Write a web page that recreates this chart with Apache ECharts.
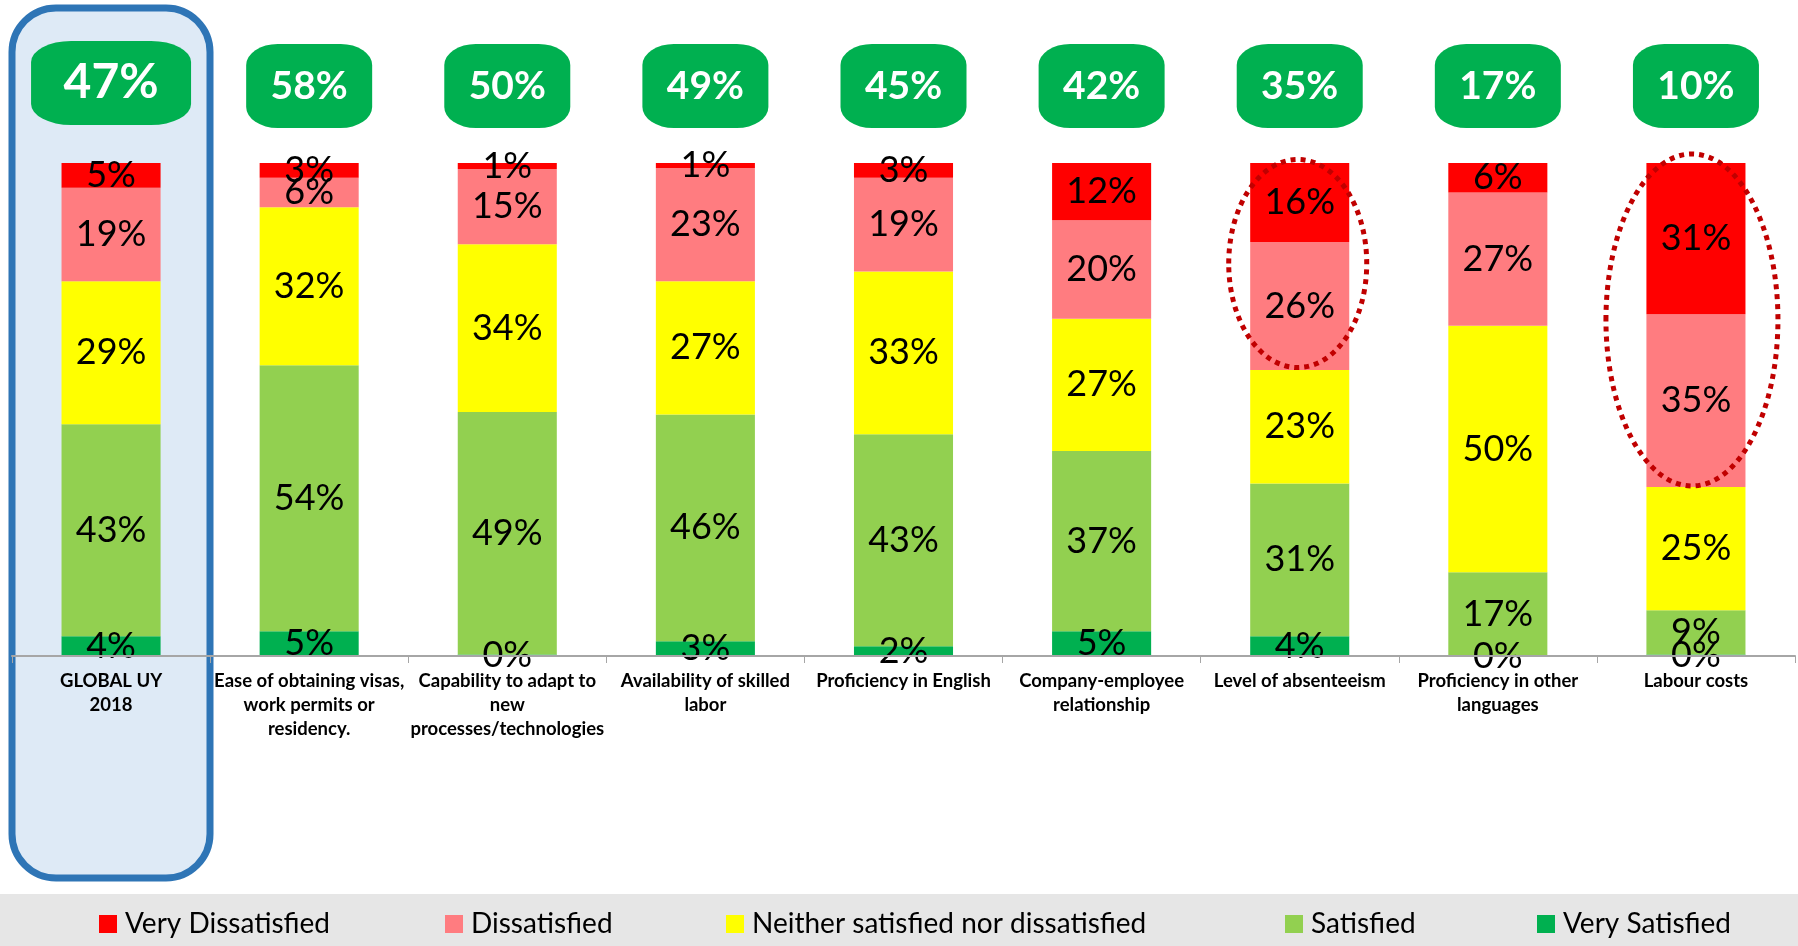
<!DOCTYPE html>
<html>
<head>
<meta charset="utf-8">
<script src="https://cdn.jsdelivr.net/npm/echarts@6/dist/echarts.min.js"></script>
<style>
  html, body { margin: 0; padding: 0; background: #fff; }
  #chart { width: 1798px; height: 946px; }
</style>
</head>
<body>
<div id="chart"></div>
<script>
// categories and segment shares (%)
const categories = [
  'GLOBAL UY\n2018',
  'Ease of obtaining visas,\nwork permits or\nresidency.',
  'Capability to adapt to\nnew\nprocesses/technologies',
  'Availability of skilled\nlabor',
  'Proficiency in English',
  'Company-employee\nrelationship',
  'Level of absenteeism',
  'Proficiency in other\nlanguages',
  'Labour costs'
];
const veryDissatisfied = [5, 3, 1.2, 1, 3, 11.6, 16, 6, 30.7];
const dissatisfied = [19, 6, 15.3, 23, 19, 20, 26, 27, 35];
const neither = [29, 32, 34, 27, 33, 26.8, 23, 50, 25];
const satisfied = [43, 54, 49.2, 46, 43, 36.6, 31, 17, 9];
const verySatisfied = [4, 5, 0.3, 3, 2, 5, 4, 0, 0.3];
// green boxes on top (total satisfied)
const satisfiedTotals = [47, 58, 50, 49, 45, 42, 35, 17, 10];

const FONT = 'Lato, "Open Sans", sans-serif';

const segments = [
  { name: 'Very Satisfied', data: verySatisfied, color: '#00B050' },
  { name: 'Satisfied', data: satisfied, color: '#92D050' },
  { name: 'Neither satisfied nor dissatisfied', data: neither, color: '#FFFF00' },
  { name: 'Dissatisfied', data: dissatisfied, color: '#FF7C80' },
  { name: 'Very Dissatisfied', data: veryDissatisfied, color: '#FF0000' }
];

// legend items left to right, with their left edge in px
const legendOrder = ['Very Dissatisfied', 'Dissatisfied', 'Neither satisfied nor dissatisfied', 'Satisfied', 'Very Satisfied'];
const legendLeft = [94, 440, 721, 1280, 1532];

const chart = echarts.init(document.getElementById('chart'));

const barSeries = segments.map(s => ({
  name: s.name,
  type: 'bar',
  stack: 'total',
  barWidth: '50%',
  xAxisIndex: 0,
  yAxisIndex: 0,
  data: s.data,
  itemStyle: { color: s.color },
  label: {
    show: true,
    position: 'inside',
    color: '#000',
    fontFamily: FONT,
    fontSize: 36,
    formatter: p => Math.round(p.value) + '%'
  },
  z: 5
}));

const totalsSeries = {
  name: 'totals',
  type: 'scatter',
  xAxisIndex: 1,
  yAxisIndex: 1,
  symbol: 'roundRect',
  silent: true,
  data: satisfiedTotals.map((v, i) => i === 0
    ? { value: [i, 0.5, v], symbolSize: [160, 84], symbolOffset: [0, -3],
        label: { fontSize: 48 } }
    : { value: [i, 0.5, v], symbolSize: [126, 84] }),
  itemStyle: { color: '#00B050', opacity: 1 },
  label: {
    show: true,
    position: 'inside',
    color: '#fff',
    fontFamily: FONT,
    fontWeight: 'bold',
    fontSize: 39,
    formatter: p => p.value[2] + '%'
  },
  z: 5
};

const staticGraphics = [
  {
    type: 'rect', z: -10, silent: true,
    shape: { x: 0, y: 894, width: 1798, height: 52 },
    style: { fill: '#E6E6E6' }
  },
  {
    type: 'rect', z: -10, silent: true,
    shape: { x: 12, y: 8, width: 198, height: 870, r: 44 },
    style: { fill: '#DEEAF6', stroke: '#2E75B6', lineWidth: 7 }
  }
];

chart.setOption({
  animation: false,
  grid: [
    { left: 12, right: 3, top: 163, bottom: 290 },
    { left: 12, right: 3, top: 40, height: 92 }
  ],
  xAxis: [
    {
      type: 'category',
      gridIndex: 0,
      data: categories,
      axisLine: { lineStyle: { color: '#A6A6A6', width: 2 } },
      axisTick: { show: true, length: 7, lineStyle: { color: '#A6A6A6', width: 1 } },
      axisLabel: {
        interval: 0,
        margin: 13,
        color: '#000',
        fontFamily: FONT,
        fontWeight: 'bold',
        fontSize: 18.5,
        lineHeight: 24
      },
      z: 6
    },
    { type: 'category', gridIndex: 1, data: categories, show: false }
  ],
  yAxis: [
    { type: 'value', gridIndex: 0, min: 0, max: 100, show: false },
    { type: 'value', gridIndex: 1, min: 0, max: 1, show: false }
  ],
  legend: legendOrder.map((name, i) => ({
    data: [name],
    left: legendLeft[i],
    top: 905,
    icon: 'rect',
    itemWidth: 18,
    itemHeight: 18,
    textStyle: { color: '#000', fontFamily: FONT, fontSize: 28, padding: [0, 0, 0, 3] }
  })),
  graphic: staticGraphics,
  series: barSeries.concat([totalsSeries])
});

// dotted red ellipses around the two top segments of two bars
const ring = (idx, dx, dy, rx, ry) => {
  const mid = 100 - (veryDissatisfied[idx] + dissatisfied[idx]) / 2;
  const p = chart.convertToPixel({ gridIndex: 0 }, [idx, mid]);
  return {
    type: 'ellipse',
    z: 100,
    silent: true,
    shape: { cx: p[0] + dx, cy: p[1] + dy, rx: rx, ry: ry },
    style: { fill: 'none', stroke: '#C00000', lineWidth: 5, lineDash: [5, 5] }
  };
};

chart.setOption({
  graphic: staticGraphics.concat([
    ring(6, -2, -3, 69, 104),
    ring(8, -4, -5, 86, 166)
  ])
});
</script>
</body>
</html>
